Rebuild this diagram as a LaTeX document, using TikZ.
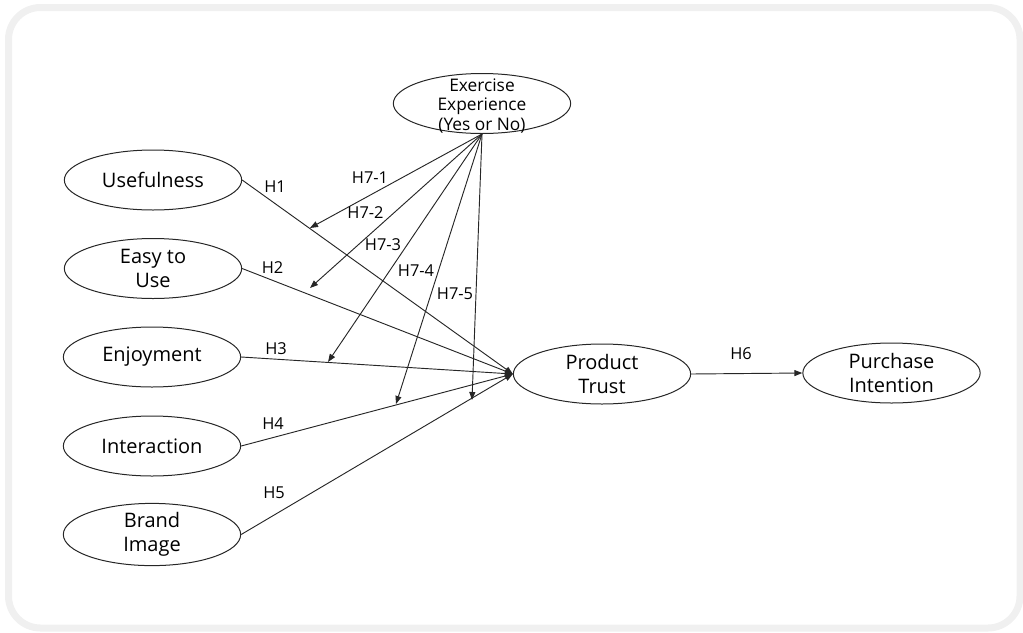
\documentclass[tikz,border=0pt]{standalone}
\usepackage{fontspec}
\setmainfont{Open Sans}
\usetikzlibrary{shapes.geometric,arrows.meta}
\begin{document}
\begin{tikzpicture}[x=0.75pt,y=-0.75pt,
  var/.style={ellipse,draw=black!85,line width=0.75pt,minimum width=133pt,minimum height=45pt,inner sep=0pt,align=center,font=\fontsize{15}{18}\selectfont},
  plain/.style={inner sep=0pt,align=center},
  conn/.style={draw=black!85,line width=0.7pt,-{Triangle[length=6pt,width=4.5pt]}},
  lab/.style={font=\fontsize{12.3}{13}\selectfont,inner sep=0pt}]
\useasboundingbox (0,0) rectangle (1023,632);
\draw[line width=5.25pt,draw=black!6,rounded corners=24pt] (8.5,7.5) rectangle (1020,628);
% variables
\node[var] (use) at (153,180) {Usefulness};
\node[var] (easy) at (153,268.5) {Easy to\\Use};
\node[var] (enj) at (152,357) {Enjoyment};
\node[var] (inter) at (152,446) {Interaction};
\node[var] (brand) at (152,534.5) {Brand\\Image};
\node[var] (trust) at (602,374) {Product\\Trust};
\node[var] (pi) at (891.5,373) {Purchase\\Intention};
\node[var] (exer) at (482,103.5) {};
\node[plain,font=\fontsize{13}{14.4}\selectfont] (exertext) at (482,106) {Exercise\\Experience\\(Yes or No)};
% main paths
\draw[conn] (use.east) -- (trust.west);
\draw[conn] (easy.east) -- (trust.west);
\draw[conn] (enj.east) -- (trust.west);
\draw[conn] (inter.east) -- (trust.west);
\draw[conn] (brand.east) -- (trust.west);
\draw[conn] (trust.east) -- (pi.west);
% moderation
\coordinate (t1) at (310,228);
\coordinate (t2) at (310,288);
\coordinate (t3) at (328,362);
\coordinate (t4) at (396,404);
\coordinate (t5) at (472,400);
\draw[conn] (exer.south) -- (t1);
\draw[conn] (exer.south) -- (t2);
\draw[conn] (exer.south) -- (t3);
\draw[conn] (exer.south) -- (t4);
\draw[conn] (exer.south) -- (t5);
% labels
\node[lab] (h1) at (275,187) {H1};
\node[lab] (h2) at (272.5,268) {H2};
\node[lab] (h3) at (276,349) {H3};
\node[lab] (h4) at (273,424) {H4};
\node[lab] (h5) at (274,493) {H5};
\node[lab] (h6) at (741,354) {H6};
\node[lab] (h71) at (370,177.5) {H7-1};
\node[lab] (h72) at (365.5,213) {H7-2};
\node[lab] (h73) at (383,244.5) {H7-3};
\node[lab] (h74) at (416,271) {H7-4};
\node[lab] (h75) at (455,294) {H7-5};
\end{tikzpicture}
\end{document}
